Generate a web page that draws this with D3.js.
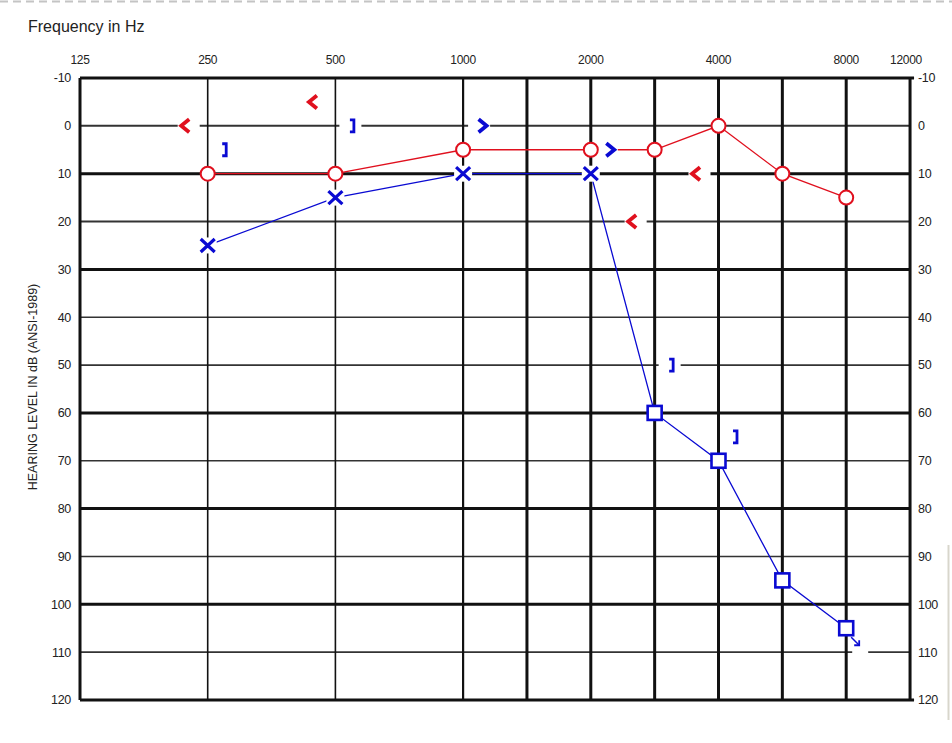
<!DOCTYPE html>
<html>
<head>
<meta charset="utf-8">
<script src="https://cdn.jsdelivr.net/npm/d3@7"></script>
<style>
  body { margin: 0; background: #fff; }
  svg text { font-family: "Liberation Sans", Arial, sans-serif; fill: #222; }
</style>
</head>
<body>
<div id="chart"></div>
<script>
// chart size
var width = 952;
var height = 743;

// frequency grid (Hz) and which labels appear on top
var gridFreqs = [125, 250, 500, 1000, 1500, 2000, 3000, 4000, 6000, 8000, 12000];
var freqLabels = [125, 250, 500, 1000, 2000, 4000, 8000, 12000];
var dbTicks = [-10, 0, 10, 20, 30, 40, 50, 60, 70, 80, 90, 100, 110, 120];

// right ear, air conduction (red O)
var rightAirFreq = [250, 500, 1000, 2000, 3000, 4000, 6000, 8000];
var rightAirDb = [10, 10, 5, 5, 5, 0, 10, 15];

// left ear, air conduction unmasked (blue X)
var leftAirFreq = [250, 500, 1000, 2000];
var leftAirDb = [25, 15, 10, 10];

// left ear, air conduction masked (blue square)
var leftMaskFreq = [3000, 4000, 6000, 8000];
var leftMaskDb = [60, 70, 95, 105];

// right ear bone (red <)
var rightBoneFreq = [250, 500, 3000, 4000];
var rightBoneDb = [0, -5, 20, 10];

// left ear bone unmasked (blue >)
var leftBoneFreq = [1000, 2000];
var leftBoneDb = [0, 5];

// left ear bone masked (blue ])
var leftBoneMaskFreq = [250, 500, 3000, 4000];
var leftBoneMaskDb = [5, 0, 50, 65];

// no response at this point
var noResponseFreq = [8000];
var noResponseDb = [105];

var red = "#e0101e";
var blue = "#0a0ad2";

var svg = d3.select("#chart")
  .append("svg")
  .attr("width", width)
  .attr("height", height);

// audiogram scale: octaves evenly spaced, half-octaves in between
var octaves = [125, 250, 500, 1000, 2000, 4000, 8000, 16000];
var x = d3.scaleLinear()
  .domain(octaves)
  .range(octaves.map(function(d, i) { return 80 + i * 127.7; }));

var y = d3.scaleLinear()
  .domain([-10, 120])
  .range([78, 700]);

// dashed strip at the very top
svg.append("line")
  .attr("x1", 0).attr("x2", width)
  .attr("y1", 1.5).attr("y2", 1.5)
  .attr("stroke", "#c4c4c4")
  .attr("stroke-width", 2)
  .attr("stroke-dasharray", "8,5");

// faint edge on the right
svg.append("line")
  .attr("x1", 948.5).attr("x2", 948.5)
  .attr("y1", 545).attr("y2", 720)
  .attr("stroke", "#d8d6cc")
  .attr("stroke-width", 2);

svg.append("text")
  .attr("x", 28)
  .attr("y", 32)
  .attr("font-size", 16)
  .text("Frequency in Hz");

// grid
var thickDb = [-10, 10, 30, 60, 80, 100, 120];
var grid = svg.append("g").attr("class", "grid");

grid.selectAll("line.h")
  .data(dbTicks)
  .enter()
  .append("line")
  .attr("class", "h")
  .attr("x1", x(125))
  .attr("x2", function(d) { return d === -10 || d === 120 ? x(12000) + 4 : x(12000); })
  .attr("y1", function(d) { return y(d); })
  .attr("y2", function(d) { return y(d); })
  .attr("stroke", function(d) { return thickDb.indexOf(d) >= 0 ? "#111" : "#333"; })
  .attr("stroke-width", function(d) {
    if (thickDb.indexOf(d) >= 0) return 3;
    return d === 0 || d === 20 ? 2 : 1.6;
  });

grid.selectAll("line.v")
  .data(gridFreqs)
  .enter()
  .append("line")
  .attr("class", "v")
  .attr("x1", function(d) { return x(d); })
  .attr("x2", function(d) { return x(d); })
  .attr("y1", y(-10))
  .attr("y2", y(120))
  .attr("stroke", "#111")
  .attr("stroke-width", function(d) {
    if (d === 250 || d === 500) return 1.6;
    if (d === 1000) return 2.2;
    return 3;
  });

// top frequency labels
svg.selectAll("text.freq")
  .data(freqLabels)
  .enter()
  .append("text")
  .attr("class", "freq")
  .attr("x", function(d) { return d === 12000 ? x(d) - 4 : x(d); })
  .attr("y", 64)
  .attr("text-anchor", "middle")
  .attr("font-size", 12)
  .attr("letter-spacing", -0.3)
  .text(function(d) { return d; });

// dB labels left and right
svg.selectAll("text.dbl")
  .data(dbTicks)
  .enter()
  .append("text")
  .attr("class", "dbl")
  .attr("x", 71)
  .attr("y", function(d) { return y(d); })
  .attr("dy", "0.35em")
  .attr("text-anchor", "end")
  .attr("font-size", 12.5)
  .attr("letter-spacing", -0.3)
  .text(function(d) { return d; });

svg.selectAll("text.dbr")
  .data(dbTicks)
  .enter()
  .append("text")
  .attr("class", "dbr")
  .attr("x", 918)
  .attr("y", function(d) { return y(d); })
  .attr("dy", "0.35em")
  .attr("font-size", 12.5)
  .attr("letter-spacing", -0.3)
  .text(function(d) { return d; });

svg.append("text")
  .attr("transform", "translate(37,387) rotate(-90)")
  .attr("text-anchor", "middle")
  .attr("font-size", 12.5)
  .text("HEARING LEVEL IN dB (ANSI-1989)");

function pairs(fs, ds) {
  return fs.map(function(f, i) { return { f: f, db: ds[i] }; });
}

var line = d3.line()
  .x(function(d) { return x(d.f); })
  .y(function(d) { return y(d.db); });

// connecting lines
svg.append("path")
  .datum(pairs(rightAirFreq, rightAirDb))
  .attr("d", line)
  .attr("fill", "none")
  .attr("stroke", red)
  .attr("stroke-width", 1.3);

svg.append("path")
  .datum(pairs(leftAirFreq.concat(leftMaskFreq), leftAirDb.concat(leftMaskDb)))
  .attr("d", line)
  .attr("fill", "none")
  .attr("stroke", blue)
  .attr("stroke-width", 1.3);

// white patches behind bone symbols (they break the grid lines)
function patches(data, dx) {
  svg.append("g")
    .selectAll("rect")
    .data(data)
    .enter()
    .append("rect")
    .attr("x", function(d) { return x(d.f) + dx - 11; })
    .attr("y", function(d) { return y(d.db) - 8; })
    .attr("width", 22)
    .attr("height", 16)
    .attr("fill", "#fff");
}

var rb = pairs(rightBoneFreq, rightBoneDb);
var lb = pairs(leftBoneFreq, leftBoneDb);
var lbm = pairs(leftBoneMaskFreq, leftBoneMaskDb);
var nr = pairs(noResponseFreq, noResponseDb);

patches(rb, -19);
patches(lb, 16);
patches(lbm, 15);

// gap in grid where the no-response arrow sits
svg.selectAll("rect.nr")
  .data(nr)
  .enter()
  .append("rect")
  .attr("class", "nr")
  .attr("x", function(d) { return x(d.f) + 6; })
  .attr("y", function(d) { return y(d.db) + 16; })
  .attr("width", 16)
  .attr("height", 12)
  .attr("fill", "#fff");

// red circles
svg.selectAll("circle.ra")
  .data(pairs(rightAirFreq, rightAirDb))
  .enter()
  .append("circle")
  .attr("class", "ra")
  .attr("cx", function(d) { return x(d.f); })
  .attr("cy", function(d) { return y(d.db); })
  .attr("r", 7)
  .attr("fill", "#fff")
  .attr("stroke", red)
  .attr("stroke-width", 2);

// blue X
var xs = svg.selectAll("g.la")
  .data(pairs(leftAirFreq, leftAirDb))
  .enter()
  .append("g")
  .attr("class", "la")
  .attr("transform", function(d) { return "translate(" + x(d.f) + "," + y(d.db) + ")"; });
xs.append("rect")
  .attr("x", -9).attr("y", -8).attr("width", 18).attr("height", 16)
  .attr("fill", "#fff");
xs.append("path")
  .attr("d", "M-7,-6.5L7,6.5M7,-6.5L-7,6.5")
  .attr("stroke", blue)
  .attr("stroke-width", 3.2)
  .attr("fill", "none");

// blue squares
svg.selectAll("rect.lm")
  .data(pairs(leftMaskFreq, leftMaskDb))
  .enter()
  .append("rect")
  .attr("class", "lm")
  .attr("x", function(d) { return x(d.f) - 7; })
  .attr("y", function(d) { return y(d.db) - 7; })
  .attr("width", 14)
  .attr("height", 14)
  .attr("fill", "#fff")
  .attr("stroke", blue)
  .attr("stroke-width", 2.6);

// red <
svg.selectAll("path.rb")
  .data(rb)
  .enter()
  .append("path")
  .attr("class", "rb")
  .attr("transform", function(d) { return "translate(" + (x(d.f) - 23) + "," + y(d.db) + ")"; })
  .attr("d", "M4.5,-6.5L-3.5,0L4.5,6.5")
  .attr("fill", "none")
  .attr("stroke", red)
  .attr("stroke-width", 3.8);

// blue >
svg.selectAll("path.lb")
  .data(lb)
  .enter()
  .append("path")
  .attr("class", "lb")
  .attr("transform", function(d) { return "translate(" + (x(d.f) + 20) + "," + y(d.db) + ")"; })
  .attr("d", "M-4.5,-6.5L3.5,0L-4.5,6.5")
  .attr("fill", "none")
  .attr("stroke", blue)
  .attr("stroke-width", 3.8);

// blue ]
svg.selectAll("path.lbm")
  .data(lbm)
  .enter()
  .append("path")
  .attr("class", "lbm")
  .attr("transform", function(d) { return "translate(" + (x(d.f) + 17) + "," + y(d.db) + ")"; })
  .attr("d", "M-2.5,-6L1.5,-6L1.5,6L-2.5,6")
  .attr("fill", "none")
  .attr("stroke", blue)
  .attr("stroke-width", 2.8);

// no-response arrow
var arrows = svg.selectAll("g.nr")
  .data(nr)
  .enter()
  .append("g")
  .attr("class", "nr")
  .attr("transform", function(d) { return "translate(" + x(d.f) + "," + y(d.db) + ")"; });
arrows.append("path")
  .attr("d", "M5,9L13,17")
  .attr("stroke", blue)
  .attr("stroke-width", 1.5);
arrows.append("path")
  .attr("d", "M13,12L13,17L8,17")
  .attr("fill", "none")
  .attr("stroke", blue)
  .attr("stroke-width", 1.8);
</script>
</body>
</html>
